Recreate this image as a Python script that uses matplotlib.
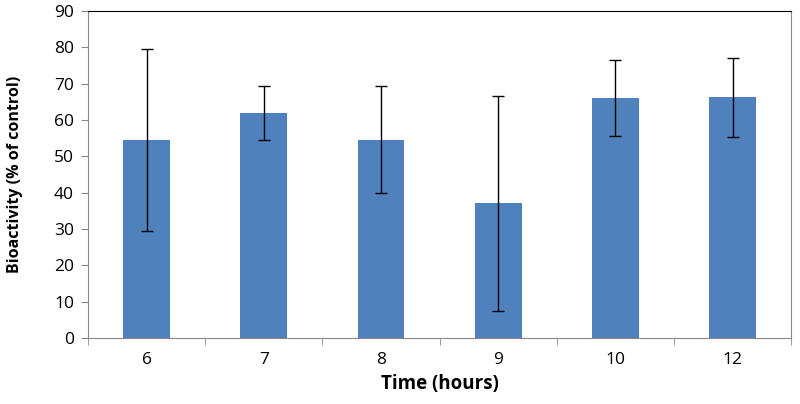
import numpy as np
import matplotlib.pyplot as plt

hours = ['6', '7', '8', '9', '10', '12']
bioactivity = [54.4, 62.0, 54.6, 37.1, 66.0, 66.2]
errors = [25.0, 7.4, 14.8, 29.5, 10.4, 10.8]

plt.rcParams['font.family'] = ['Open Sans', 'DejaVu Sans']

fig = plt.figure(figsize=(8, 4.04), dpi=100)
ax = fig.add_axes([0.11, 0.163, 0.879, 0.81])

x = np.arange(len(hours))
ax.bar(x, bioactivity, width=0.4, color='#4F81BD', zorder=2)
ax.errorbar(x, bioactivity, yerr=errors, fmt='none', ecolor='black',
            elinewidth=1, capsize=4, capthick=1, zorder=3)

ax.set_xlim(-0.5, len(hours) - 0.5)
ax.set_ylim(0, 90)
ax.set_yticks(range(0, 91, 10))
ax.set_xticks(x)
ax.set_xticklabels(hours)
ax.set_xticks(np.arange(-0.5, len(hours), 1), minor=True)
ax.tick_params(axis='x', which='major', length=0, pad=10, labelsize=12.5)
ax.tick_params(axis='x', which='minor', length=5, color='#888888', direction='out')
ax.tick_params(axis='y', length=5, color='#888888', labelsize=12.5, pad=5)

for side in ['left', 'bottom', 'right']:
    ax.spines[side].set_color('#888888')
ax.spines['top'].set_color('black')

ax.set_xlabel('Time (hours)', fontsize=13.5, fontweight='bold')
ax.set_ylabel('Bioactivity (% of control)', fontsize=11.5, fontweight='bold')
ax.xaxis.set_label_coords(0.5, -0.11)
ax.yaxis.set_label_coords(-0.092, 0.5)

fig.savefig('out.png', dpi=100)
